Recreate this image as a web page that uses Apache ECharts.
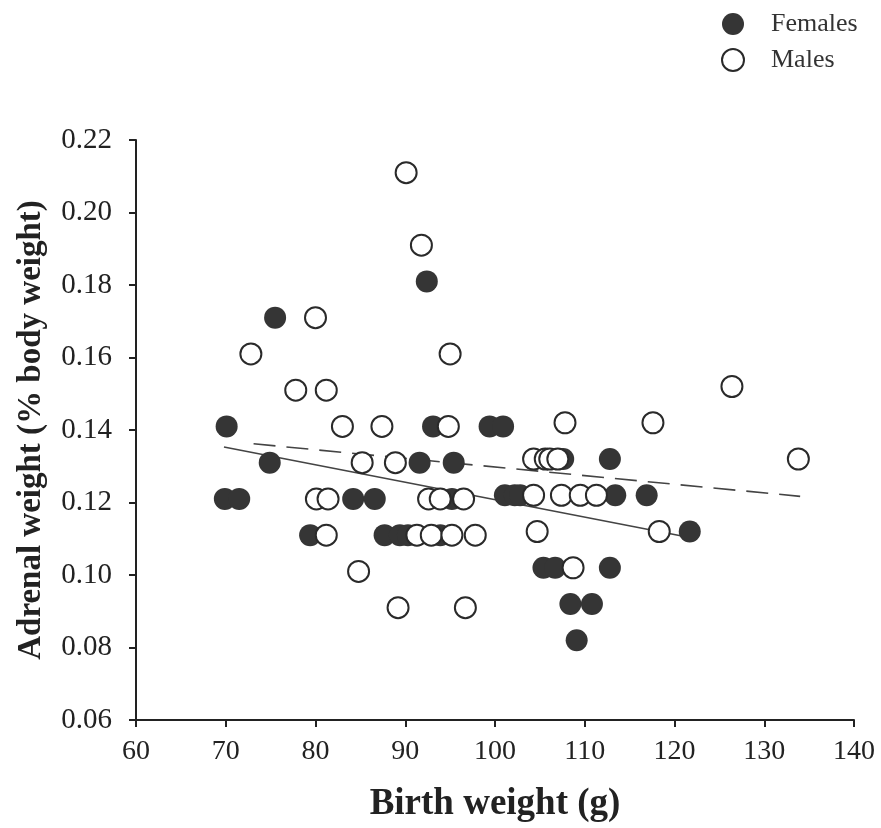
<!DOCTYPE html>
<html>
<head>
<meta charset="utf-8">
<script src="https://cdn.jsdelivr.net/npm/echarts@6/dist/echarts.min.js"></script>
<style>html,body{margin:0;padding:0;background:#fff}#c{width:881px;height:828px}</style>
</head>
<body>
<div id="c"></div>
<script>
// Females (filled)
var femaleX = [70.1, 69.9, 71.5, 74.9, 75.5, 79.4, 84.2, 86.6, 87.7, 89.4, 90.3, 91.6, 92.4, 93.1, 93.9, 95.2, 95.4, 99.4, 100.9, 101.1, 102.2, 102.8, 105.4, 106.7, 107.6, 108.4, 109.1, 110.8, 112.8, 112.8, 113.4, 116.9, 121.7];
var femaleY = [0.141, 0.121, 0.121, 0.131, 0.171, 0.111, 0.121, 0.121, 0.111, 0.111, 0.111, 0.131, 0.181, 0.141, 0.111, 0.121, 0.131, 0.141, 0.141, 0.122, 0.122, 0.122, 0.102, 0.102, 0.132, 0.092, 0.082, 0.092, 0.132, 0.102, 0.122, 0.122, 0.112];
// Males (open)
var maleX = [90.1, 91.8, 80.0, 72.8, 95.0, 77.8, 81.2, 83.0, 87.4, 94.8, 107.8, 117.6, 126.4, 85.2, 88.9, 104.3, 105.6, 106.1, 107.0, 133.8, 80.1, 81.4, 92.6, 93.9, 96.5, 104.3, 107.4, 109.5, 111.3, 81.2, 91.3, 92.9, 95.2, 97.8, 104.7, 118.3, 84.8, 108.7, 89.2, 96.7];
var maleY = [0.211, 0.191, 0.171, 0.161, 0.161, 0.151, 0.151, 0.141, 0.141, 0.141, 0.142, 0.142, 0.152, 0.131, 0.131, 0.132, 0.132, 0.132, 0.132, 0.132, 0.121, 0.121, 0.121, 0.121, 0.121, 0.122, 0.122, 0.122, 0.122, 0.111, 0.111, 0.111, 0.111, 0.111, 0.112, 0.112, 0.101, 0.102, 0.091, 0.091];
// Regression lines (end points)
var femaleFitX = [69.8, 121.4];
var femaleFitY = [0.1353, 0.1105];
var maleFitX = [73.1, 134.0];
var maleFitY = [0.1362, 0.1217];
// Axis ticks
var xTicks = [60, 70, 80, 90, 100, 110, 120, 130, 140];
var yTicks = [0.06, 0.08, 0.10, 0.12, 0.14, 0.16, 0.18, 0.20, 0.22];

function pairs(xs, ys) { return xs.map(function (x, i) { return [x, ys[i]]; }); }

var serif = '"Liberation Serif", "Times New Roman", serif';
var chart = echarts.init(document.getElementById('c'), null, {renderer: 'canvas'});
chart.setOption({
  backgroundColor: '#fff',
  animation: false,
  legend: {
    data: ['Females', 'Males'],
    orient: 'vertical',
    left: 716, top: 6,
    itemWidth: 22, itemHeight: 22, itemGap: 10,
    textStyle: {fontFamily: serif, fontSize: 26, color: '#333', padding: [0, 0, 0, 22]}
  },
  grid: {left: 136, right: 27, top: 140, bottom: 106},
  xAxis: {
    type: 'value', min: xTicks[0], max: xTicks[xTicks.length - 1], interval: 10,
    name: 'Birth weight (g)', nameLocation: 'middle', nameGap: 66,
    nameTextStyle: {fontFamily: serif, fontSize: 37, fontWeight: 'bold', color: '#222'},
    axisLine: {lineStyle: {color: '#222', width: 2}},
    axisTick: {length: 7, lineStyle: {color: '#222', width: 2}},
    axisLabel: {fontFamily: serif, fontSize: 28, color: '#222', margin: 18},
    splitLine: {show: false}
  },
  yAxis: {
    type: 'value', min: yTicks[0], max: yTicks[yTicks.length - 1], interval: 0.02,
    name: 'Adrenal weight (% body weight)', nameLocation: 'middle', nameGap: 88,
    nameTextStyle: {fontFamily: serif, fontSize: 33, fontWeight: 'bold', color: '#222'},
    axisLine: {show: true, lineStyle: {color: '#222', width: 2}},
    axisTick: {show: true, length: 7, lineStyle: {color: '#222', width: 2}},
    axisLabel: {fontFamily: serif, fontSize: 29, color: '#222', margin: 24,
      formatter: function (v) { return v.toFixed(2); }},
    splitLine: {show: false}
  },
  series: [
    {
      name: 'Female fit', type: 'line', data: pairs(femaleFitX, femaleFitY),
      symbol: 'none', lineStyle: {color: '#444', width: 1.6}, z: 1
    },
    {
      name: 'Male fit', type: 'line', data: pairs(maleFitX, maleFitY),
      symbol: 'none', lineStyle: {color: '#444', width: 1.6, type: [22, 11]}, z: 1
    },
    {
      name: 'Females', type: 'scatter', data: pairs(femaleX, femaleY),
      symbol: 'circle', symbolSize: 22,
      itemStyle: {color: '#353535', borderColor: '#353535', borderWidth: 0, opacity: 1}, z: 2
    },
    {
      name: 'Males', type: 'scatter', data: pairs(maleX, maleY),
      symbol: 'circle', symbolSize: 21,
      itemStyle: {color: '#fff', borderColor: '#2a2a2a', borderWidth: 2, opacity: 1}, z: 3
    }
  ]
});
</script>
</body>
</html>
